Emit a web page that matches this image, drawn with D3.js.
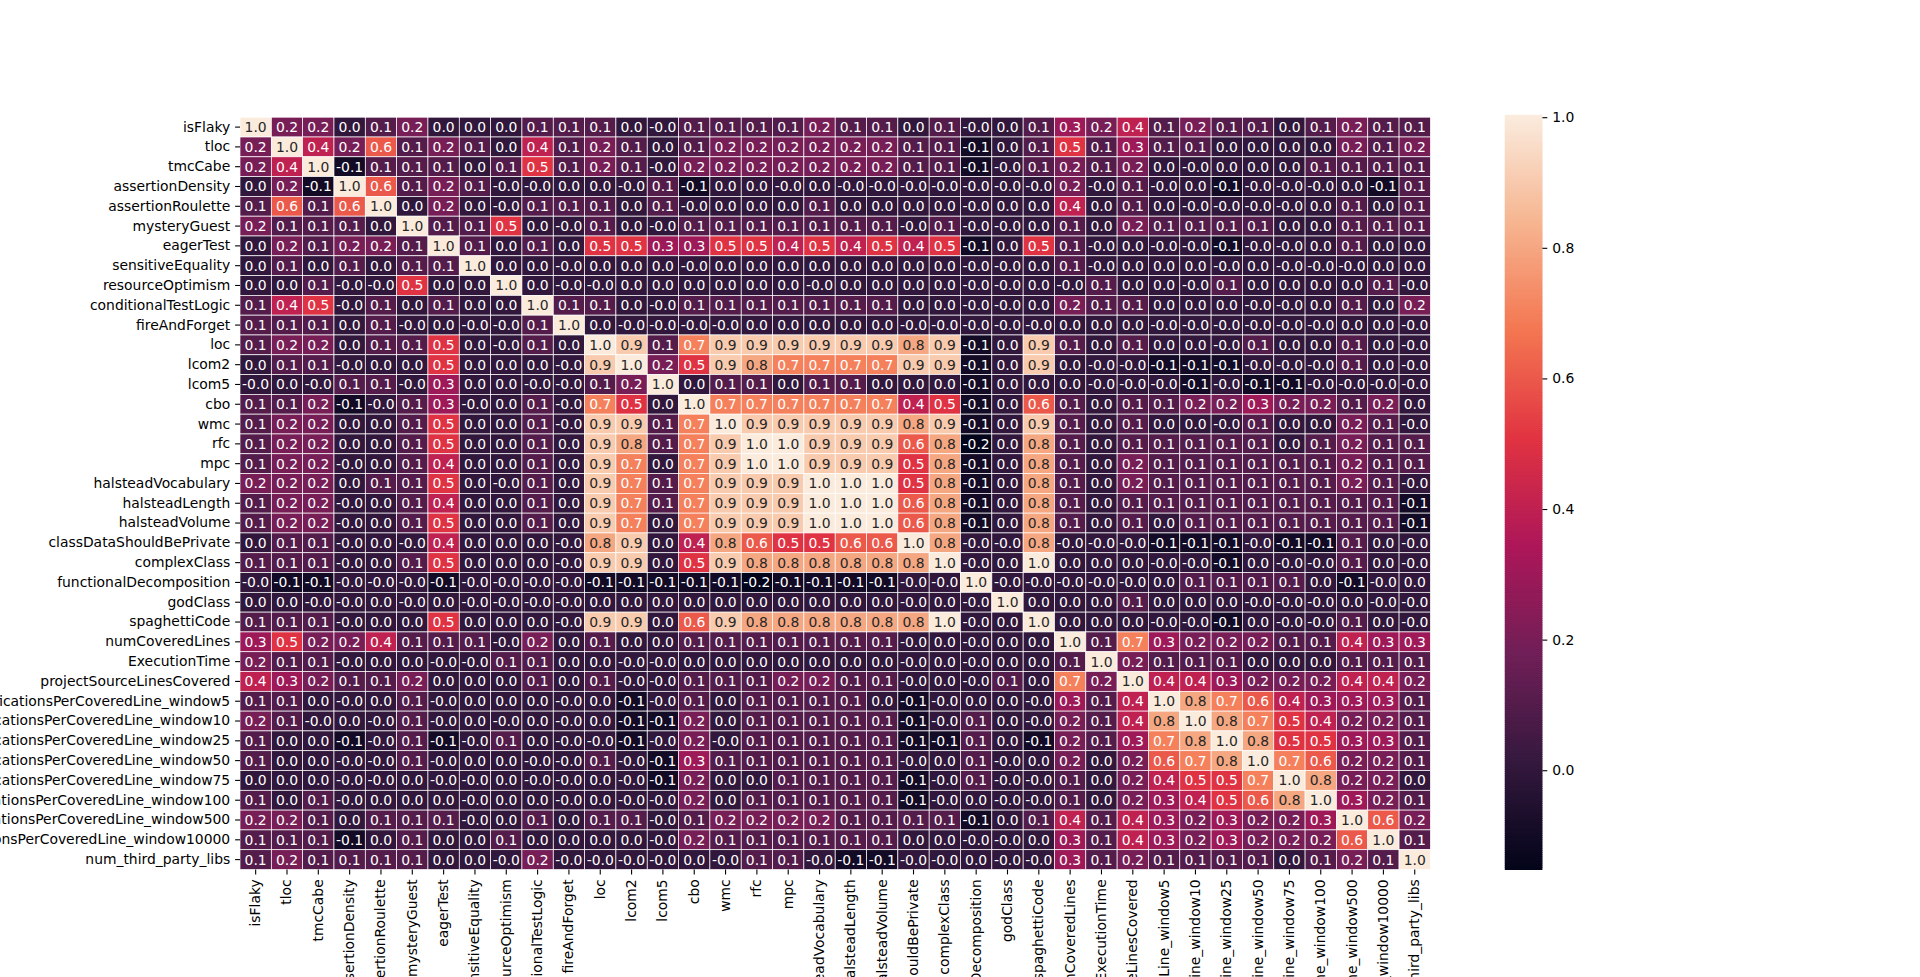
<!DOCTYPE html>
<html>
<head>
<meta charset="utf-8">
<script src="https://cdn.jsdelivr.net/npm/d3@7"></script>
<style>
  body { margin: 0; background: #fff; }
  text { font-family: "DejaVu Sans", sans-serif; }
</style>
</head>
<body>
<svg id="heat" width="1920" height="977"></svg>
<script>
var labels = ["isFlaky", "tloc", "tmcCabe", "assertionDensity", "assertionRoulette", "mysteryGuest",
  "eagerTest", "sensitiveEquality", "resourceOptimism", "conditionalTestLogic", "fireAndForget",
  "loc", "lcom2", "lcom5", "cbo", "wmc", "rfc", "mpc", "halsteadVocabulary", "halsteadLength",
  "halsteadVolume", "classDataShouldBePrivate", "complexClass", "functionalDecomposition", "godClass",
  "spaghettiCode", "numCoveredLines", "ExecutionTime", "projectSourceLinesCovered",
  "numModificationsPerCoveredLine_window5", "numModificationsPerCoveredLine_window10",
  "numModificationsPerCoveredLine_window25", "numModificationsPerCoveredLine_window50",
  "numModificationsPerCoveredLine_window75", "numModificationsPerCoveredLine_window100",
  "numModificationsPerCoveredLine_window500", "numModificationsPerCoveredLine_window10000",
  "num_third_party_libs"];

// correlation rows, one per label (-0.0 kept as negative zero)
var corr = [
  [1.0,0.2,0.2,0.0,0.1,0.2,0.0,0.0,0.0,0.1,0.1,0.1,0.0,-0.0,0.1,0.1,0.1,0.1,0.2,0.1, 0.1,0.0,0.1,-0.0,0.0,0.1,0.3,0.2,0.4,0.1,0.2,0.1,0.1,0.0,0.1,0.2,0.1,0.1],
  [0.2,1.0,0.4,0.2,0.6,0.1,0.2,0.1,0.0,0.4,0.1,0.2,0.1,0.0,0.1,0.2,0.2,0.2,0.2,0.2, 0.2,0.1,0.1,-0.1,0.0,0.1,0.5,0.1,0.3,0.1,0.1,0.0,0.0,0.0,0.0,0.2,0.1,0.2],
  [0.2,0.4,1.0,-0.1,0.1,0.1,0.1,0.0,0.1,0.5,0.1,0.2,0.1,-0.0,0.2,0.2,0.2,0.2,0.2,0.2, 0.2,0.1,0.1,-0.1,-0.0,0.1,0.2,0.1,0.2,0.0,-0.0,0.0,0.0,0.0,0.1,0.1,0.1,0.1],
  [0.0,0.2,-0.1,1.0,0.6,0.1,0.2,0.1,-0.0,-0.0,0.0,0.0,-0.0,0.1,-0.1,0.0,0.0,-0.0,0.0,-0.0, -0.0,-0.0,-0.0,-0.0,-0.0,-0.0,0.2,-0.0,0.1,-0.0,0.0,-0.1,-0.0,-0.0,-0.0,0.0,-0.1,0.1],
  [0.1,0.6,0.1,0.6,1.0,0.0,0.2,0.0,-0.0,0.1,0.1,0.1,0.0,0.1,-0.0,0.0,0.0,0.0,0.1,0.0, 0.0,0.0,0.0,-0.0,0.0,0.0,0.4,0.0,0.1,0.0,-0.0,-0.0,-0.0,-0.0,0.0,0.1,0.0,0.1],
  [0.2,0.1,0.1,0.1,0.0,1.0,0.1,0.1,0.5,0.0,-0.0,0.1,0.0,-0.0,0.1,0.1,0.1,0.1,0.1,0.1, 0.1,-0.0,0.1,-0.0,-0.0,0.0,0.1,0.0,0.2,0.1,0.1,0.1,0.1,0.0,0.0,0.1,0.1,0.1],
  [0.0,0.2,0.1,0.2,0.2,0.1,1.0,0.1,0.0,0.1,0.0,0.5,0.5,0.3,0.3,0.5,0.5,0.4,0.5,0.4, 0.5,0.4,0.5,-0.1,0.0,0.5,0.1,-0.0,0.0,-0.0,-0.0,-0.1,-0.0,-0.0,0.0,0.1,0.0,0.0],
  [0.0,0.1,0.0,0.1,0.0,0.1,0.1,1.0,0.0,0.0,-0.0,0.0,0.0,0.0,-0.0,0.0,0.0,0.0,0.0,0.0, 0.0,0.0,0.0,-0.0,-0.0,0.0,0.1,-0.0,0.0,0.0,0.0,-0.0,0.0,-0.0,-0.0,-0.0,0.0,0.0],
  [0.0,0.0,0.1,-0.0,-0.0,0.5,0.0,0.0,1.0,0.0,-0.0,-0.0,0.0,0.0,0.0,0.0,0.0,0.0,-0.0,0.0, 0.0,0.0,0.0,-0.0,-0.0,0.0,-0.0,0.1,0.0,0.0,-0.0,0.1,0.0,0.0,0.0,0.0,0.1,-0.0],
  [0.1,0.4,0.5,-0.0,0.1,0.0,0.1,0.0,0.0,1.0,0.1,0.1,0.0,-0.0,0.1,0.1,0.1,0.1,0.1,0.1, 0.1,0.0,0.0,-0.0,-0.0,0.0,0.2,0.1,0.1,0.0,0.0,0.0,-0.0,-0.0,0.0,0.1,0.0,0.2],
  [0.1,0.1,0.1,0.0,0.1,-0.0,0.0,-0.0,-0.0,0.1,1.0,0.0,-0.0,-0.0,-0.0,-0.0,0.0,0.0,0.0,0.0, 0.0,-0.0,-0.0,-0.0,-0.0,-0.0,0.0,0.0,0.0,-0.0,-0.0,-0.0,-0.0,-0.0,-0.0,0.0,0.0,-0.0],
  [0.1,0.2,0.2,0.0,0.1,0.1,0.5,0.0,-0.0,0.1,0.0,1.0,0.9,0.1,0.7,0.9,0.9,0.9,0.9,0.9, 0.9,0.8,0.9,-0.1,0.0,0.9,0.1,0.0,0.1,0.0,0.0,-0.0,0.1,0.0,0.0,0.1,0.0,-0.0],
  [0.0,0.1,0.1,-0.0,0.0,0.0,0.5,0.0,0.0,0.0,-0.0,0.9,1.0,0.2,0.5,0.9,0.8,0.7,0.7,0.7, 0.7,0.9,0.9,-0.1,0.0,0.9,0.0,-0.0,-0.0,-0.1,-0.1,-0.1,-0.0,-0.0,-0.0,0.1,0.0,-0.0],
  [-0.0,0.0,-0.0,0.1,0.1,-0.0,0.3,0.0,0.0,-0.0,-0.0,0.1,0.2,1.0,0.0,0.1,0.1,0.0,0.1,0.1, 0.0,0.0,0.0,-0.1,0.0,0.0,0.0,-0.0,-0.0,-0.0,-0.1,-0.0,-0.1,-0.1,-0.0,-0.0,-0.0,-0.0],
  [0.1,0.1,0.2,-0.1,-0.0,0.1,0.3,-0.0,0.0,0.1,-0.0,0.7,0.5,0.0,1.0,0.7,0.7,0.7,0.7,0.7, 0.7,0.4,0.5,-0.1,0.0,0.6,0.1,0.0,0.1,0.1,0.2,0.2,0.3,0.2,0.2,0.1,0.2,0.0],
  [0.1,0.2,0.2,0.0,0.0,0.1,0.5,0.0,0.0,0.1,-0.0,0.9,0.9,0.1,0.7,1.0,0.9,0.9,0.9,0.9, 0.9,0.8,0.9,-0.1,0.0,0.9,0.1,0.0,0.1,0.0,0.0,-0.0,0.1,0.0,0.0,0.2,0.1,-0.0],
  [0.1,0.2,0.2,0.0,0.0,0.1,0.5,0.0,0.0,0.1,0.0,0.9,0.8,0.1,0.7,0.9,1.0,1.0,0.9,0.9, 0.9,0.6,0.8,-0.152,0.0,0.8,0.1,0.0,0.1,0.1,0.1,0.1,0.1,0.0,0.1,0.2,0.1,0.1],
  [0.1,0.2,0.2,-0.0,0.0,0.1,0.4,0.0,0.0,0.1,0.0,0.9,0.7,0.0,0.7,0.9,1.0,1.0,0.9,0.9, 0.9,0.5,0.8,-0.1,0.0,0.8,0.1,0.0,0.2,0.1,0.1,0.1,0.1,0.1,0.1,0.2,0.1,0.1],
  [0.2,0.2,0.2,0.0,0.1,0.1,0.5,0.0,-0.0,0.1,0.0,0.9,0.7,0.1,0.7,0.9,0.9,0.9,1.0,1.0, 1.0,0.5,0.8,-0.1,0.0,0.8,0.1,0.0,0.2,0.1,0.1,0.1,0.1,0.1,0.1,0.2,0.1,-0.0],
  [0.1,0.2,0.2,-0.0,0.0,0.1,0.4,0.0,0.0,0.1,0.0,0.9,0.7,0.1,0.7,0.9,0.9,0.9,1.0,1.0, 1.0,0.6,0.8,-0.1,0.0,0.8,0.1,0.0,0.1,0.1,0.1,0.1,0.1,0.1,0.1,0.1,0.1,-0.1],
  [0.1,0.2,0.2,-0.0,0.0,0.1,0.5,0.0,0.0,0.1,0.0,0.9,0.7,0.0,0.7,0.9,0.9,0.9,1.0,1.0, 1.0,0.6,0.8,-0.1,0.0,0.8,0.1,0.0,0.1,0.0,0.1,0.1,0.1,0.1,0.1,0.1,0.1,-0.1],
  [0.0,0.1,0.1,-0.0,0.0,-0.0,0.4,0.0,0.0,0.0,-0.0,0.8,0.9,0.0,0.4,0.8,0.6,0.5,0.5,0.6, 0.6,1.0,0.8,-0.0,-0.0,0.8,-0.0,-0.0,-0.0,-0.1,-0.1,-0.1,-0.0,-0.1,-0.1,0.1,0.0,-0.0],
  [0.1,0.1,0.1,-0.0,0.0,0.1,0.5,0.0,0.0,0.0,-0.0,0.9,0.9,0.0,0.5,0.9,0.8,0.8,0.8,0.8, 0.8,0.8,1.0,-0.0,0.0,1.0,0.0,0.0,0.0,-0.0,-0.0,-0.1,0.0,-0.0,-0.0,0.1,0.0,-0.0],
  [-0.0,-0.1,-0.1,-0.0,-0.0,-0.0,-0.1,-0.0,-0.0,-0.0,-0.0,-0.1,-0.1,-0.1,-0.1,-0.1,-0.152,-0.1,-0.1,-0.1, -0.1,-0.0,-0.0,1.0,-0.0,-0.0,-0.0,-0.0,-0.0,0.0,0.1,0.1,0.1,0.1,0.0,-0.1,-0.0,0.0],
  [0.0,0.0,-0.0,-0.0,0.0,-0.0,0.0,-0.0,-0.0,-0.0,-0.0,0.0,0.0,0.0,0.0,0.0,0.0,0.0,0.0,0.0, 0.0,-0.0,0.0,-0.0,1.0,0.0,0.0,0.0,0.1,0.0,0.0,0.0,-0.0,-0.0,-0.0,0.0,-0.0,-0.0],
  [0.1,0.1,0.1,-0.0,0.0,0.0,0.5,0.0,0.0,0.0,-0.0,0.9,0.9,0.0,0.6,0.9,0.8,0.8,0.8,0.8, 0.8,0.8,1.0,-0.0,0.0,1.0,0.0,0.0,0.0,-0.0,-0.0,-0.1,0.0,-0.0,-0.0,0.1,0.0,-0.0],
  [0.3,0.5,0.2,0.2,0.4,0.1,0.1,0.1,-0.0,0.2,0.0,0.1,0.0,0.0,0.1,0.1,0.1,0.1,0.1,0.1, 0.1,-0.0,0.0,-0.0,0.0,0.0,1.0,0.1,0.7,0.3,0.2,0.2,0.2,0.1,0.1,0.4,0.3,0.3],
  [0.2,0.1,0.1,-0.0,0.0,0.0,-0.0,-0.0,0.1,0.1,0.0,0.0,-0.0,-0.0,0.0,0.0,0.0,0.0,0.0,0.0, 0.0,-0.0,0.0,-0.0,0.0,0.0,0.1,1.0,0.2,0.1,0.1,0.1,0.0,0.0,0.0,0.1,0.1,0.1],
  [0.4,0.3,0.2,0.1,0.1,0.2,0.0,0.0,0.0,0.1,0.0,0.1,-0.0,-0.0,0.1,0.1,0.1,0.2,0.2,0.1, 0.1,-0.0,0.0,-0.0,0.1,0.0,0.7,0.2,1.0,0.4,0.4,0.3,0.2,0.2,0.2,0.4,0.4,0.2],
  [0.1,0.1,0.0,-0.0,0.0,0.1,-0.0,0.0,0.0,0.0,-0.0,0.0,-0.1,-0.0,0.1,0.0,0.1,0.1,0.1,0.1, 0.0,-0.1,-0.0,0.0,0.0,-0.0,0.3,0.1,0.4,1.0,0.8,0.7,0.6,0.4,0.3,0.3,0.3,0.1],
  [0.2,0.1,-0.0,0.0,-0.0,0.1,-0.0,0.0,-0.0,0.0,-0.0,0.0,-0.1,-0.1,0.2,0.0,0.1,0.1,0.1,0.1, 0.1,-0.1,-0.0,0.1,0.0,-0.0,0.2,0.1,0.4,0.8,1.0,0.8,0.7,0.5,0.4,0.2,0.2,0.1],
  [0.1,0.0,0.0,-0.1,-0.0,0.1,-0.1,-0.0,0.1,0.0,-0.0,-0.0,-0.1,-0.0,0.2,-0.0,0.1,0.1,0.1,0.1, 0.1,-0.1,-0.1,0.1,0.0,-0.1,0.2,0.1,0.3,0.7,0.8,1.0,0.8,0.5,0.5,0.3,0.3,0.1],
  [0.1,0.0,0.0,-0.0,-0.0,0.1,-0.0,0.0,0.0,-0.0,-0.0,0.1,-0.0,-0.1,0.3,0.1,0.1,0.1,0.1,0.1, 0.1,-0.0,0.0,0.1,-0.0,0.0,0.2,0.0,0.2,0.6,0.7,0.8,1.0,0.7,0.6,0.2,0.2,0.1],
  [0.0,0.0,0.0,-0.0,-0.0,0.0,-0.0,-0.0,0.0,-0.0,-0.0,0.0,-0.0,-0.1,0.2,0.0,0.0,0.1,0.1,0.1, 0.1,-0.1,-0.0,0.1,-0.0,-0.0,0.1,0.0,0.2,0.4,0.5,0.5,0.7,1.0,0.8,0.2,0.2,0.0],
  [0.1,0.0,0.1,-0.0,0.0,0.0,0.0,-0.0,0.0,0.0,-0.0,0.0,-0.0,-0.0,0.2,0.0,0.1,0.1,0.1,0.1, 0.1,-0.1,-0.0,0.0,-0.0,-0.0,0.1,0.0,0.2,0.3,0.4,0.5,0.6,0.8,1.0,0.3,0.2,0.1],
  [0.2,0.2,0.1,0.0,0.1,0.1,0.1,-0.0,0.0,0.1,0.0,0.1,0.1,-0.0,0.1,0.2,0.2,0.2,0.2,0.1, 0.1,0.1,0.1,-0.1,0.0,0.1,0.4,0.1,0.4,0.3,0.2,0.3,0.2,0.2,0.3,1.0,0.6,0.2],
  [0.1,0.1,0.1,-0.1,0.0,0.1,0.0,0.0,0.1,0.0,0.0,0.0,0.0,-0.0,0.2,0.1,0.1,0.1,0.1,0.1, 0.1,0.0,0.0,-0.0,-0.0,0.0,0.3,0.1,0.4,0.3,0.2,0.3,0.2,0.2,0.2,0.6,1.0,0.1],
  [0.1,0.2,0.1,0.1,0.1,0.1,0.0,0.0,-0.0,0.2,-0.0,-0.0,-0.0,-0.0,0.0,-0.0,0.1,0.1,-0.0,-0.1, -0.1,-0.0,-0.0,0.0,-0.0,-0.0,0.3,0.1,0.2,0.1,0.1,0.1,0.1,0.0,0.1,0.2,0.1,1.0]
];

var cbarTicks = [0.0, 0.2, 0.4, 0.6, 0.8, 1.0];

// seaborn "rocket" sampled
var rocketStops = ["#03051a", "#35193e", "#701f57", "#ad1759", "#e13342", "#f37651", "#f6b48f", "#faebdd"];

var svg = d3.select("#heat");
var plotLeft = 240, plotRight = 1430.4, plotTop = 117.2, plotBottom = 869.5;

var x = d3.scaleBand().domain(labels).range([plotLeft, plotRight]);
var y = d3.scaleBand().domain(labels).range([plotTop, plotBottom]);

var vmin = d3.min(corr, r => d3.min(r));
var vmax = d3.max(corr, r => d3.max(r));

var norm = d3.scaleLinear().domain([vmin, vmax]).range([0, 1]);
var ramp = d3.scaleLinear()
  .domain(rocketStops.map((d, i) => i / (rocketStops.length - 1)))
  .range(rocketStops)
  .interpolate(d3.interpolateRgb);
var color = v => ramp(norm(v));

function lin(c) { c = c / 255; return c <= 0.03928 ? c / 12.92 : Math.pow((c + 0.055) / 1.055, 2.4); }
function textColor(v) {
  var c = d3.rgb(color(v));
  var lum = 0.2126 * lin(c.r) + 0.7152 * lin(c.g) + 0.0722 * lin(c.b);
  return lum > 0.408 ? "#262626" : "#ffffff";
}
function fmt(v) {
  var neg = v < 0 || Object.is(v, -0);
  return (neg ? "-" : "") + Math.abs(v).toFixed(1);
}

var cells = [];
corr.forEach((row, i) => row.forEach((v, j) => cells.push({ r: labels[i], c: labels[j], v: v })));

var g = svg.append("g");
g.selectAll("rect").data(cells).enter().append("rect")
  .attr("x", d => x(d.c))
  .attr("y", d => y(d.r))
  .attr("width", x.bandwidth())
  .attr("height", y.bandwidth())
  .attr("fill", d => color(d.v))
  .attr("stroke", "#fff")
  .attr("stroke-width", 0.7);

g.selectAll("text").data(cells).enter().append("text")
  .attr("x", d => x(d.c) + x.bandwidth() / 2)
  .attr("y", d => y(d.r) + y.bandwidth() / 2)
  .attr("text-anchor", "middle")
  .attr("dominant-baseline", "central")
  .attr("font-size", "13.9px")
  .attr("fill", d => textColor(d.v))
  .text(d => fmt(d.v));

// y axis
var yAxis = svg.append("g").attr("transform", "translate(" + plotLeft + ",0)")
  .call(d3.axisLeft(y).tickSize(4.9).tickPadding(4.9));
yAxis.select(".domain").remove();
yAxis.selectAll("line").attr("stroke", "#000").attr("stroke-width", 1.1);
yAxis.selectAll("text").attr("font-size", "13.9px").attr("fill", "#000")
  .attr("font-family", "DejaVu Sans, sans-serif");

// x axis
var xAxis = svg.append("g").attr("transform", "translate(0," + plotBottom + ")")
  .call(d3.axisBottom(x).tickSize(4.9).tickPadding(4.9));
xAxis.select(".domain").remove();
xAxis.selectAll("line").attr("stroke", "#000").attr("stroke-width", 1.1);
xAxis.selectAll("text")
  .attr("font-size", "13.9px").attr("fill", "#000")
  .attr("font-family", "DejaVu Sans, sans-serif")
  .attr("text-anchor", "end")
  .attr("dy", "0.32em")
  .attr("transform", "translate(0,9.8) rotate(-90)")
  .attr("x", 0).attr("y", 0);

// colorbar
var cbLeft = 1504.8, cbWidth = 37.6;
var cy = d3.scaleLinear().domain([vmin, vmax]).range([plotBottom, plotTop]);
var steps = d3.range(0, 400).map(i => vmin + (vmax - vmin) * i / 399);
var cb = svg.append("g");
cb.selectAll("rect").data(steps).enter().append("rect")
  .attr("x", cbLeft)
  .attr("y", d => cy(d) - (plotBottom - plotTop) / 399 - 0.5)
  .attr("width", cbWidth)
  .attr("height", (plotBottom - plotTop) / 399 + 1)
  .attr("fill", d => color(d));

var cbAxis = svg.append("g").attr("transform", "translate(" + (cbLeft + cbWidth) + ",0)")
  .call(d3.axisRight(cy).tickValues(cbarTicks).tickFormat(d3.format(".1f")).tickSize(4.9).tickPadding(4.9));
cbAxis.select(".domain").remove();
cbAxis.selectAll("line").attr("stroke", "#000").attr("stroke-width", 1.1);
cbAxis.selectAll("text").attr("font-size", "13.9px").attr("fill", "#000")
  .attr("font-family", "DejaVu Sans, sans-serif");
</script>
</body>
</html>
